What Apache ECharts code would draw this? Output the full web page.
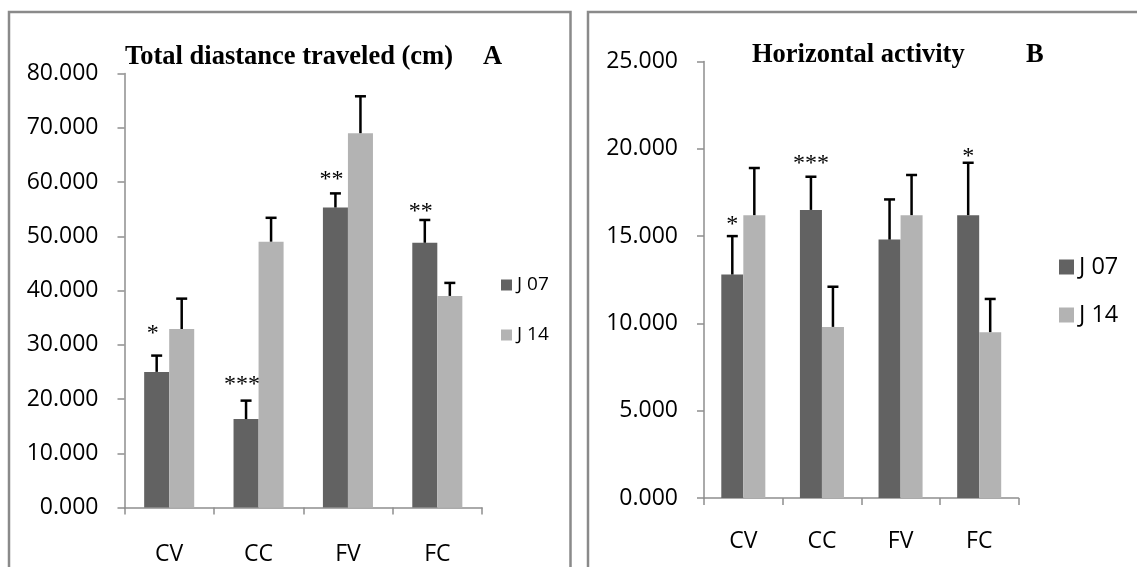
<!DOCTYPE html>
<html><head><meta charset="utf-8">
<script src="https://cdn.jsdelivr.net/npm/echarts@6/dist/echarts.min.js"></script>
<style>html,body{margin:0;padding:0;background:#fff}#c{width:1137px;height:567px}</style>
</head><body><div id="c"></div>
<script>
// ---- data ----
const categories = ['CV', 'CC', 'FV', 'FC'];
const seriesNames = ['J 07', 'J 14'];
// Panel A: Total distance traveled (cm)
const distJ07 = [25.0, 16.3, 55.3, 48.8];
const distJ07Err = [3.0, 3.4, 2.6, 4.2];
const distJ14 = [32.9, 49.0, 69.0, 39.0];
const distJ14Err = [5.6, 4.4, 6.8, 2.4];
const distStars = ['*', '***', '**', '**'];
const distStarY = [32.7, 23.3, 61.2, 55.3];
// Panel B: Horizontal activity
const horJ07 = [12.8, 16.5, 14.8, 16.2];
const horJ07Err = [2.2, 1.9, 2.3, 3.0];
const horJ14 = [16.2, 9.8, 16.2, 9.5];
const horJ14Err = [2.7, 2.3, 2.3, 1.9];
const horStars = ['*', '***', '', '*'];
const horStarY = [15.9, 19.4, 0, 19.8];
const titleA = 'Total diastance traveled (cm)';
const titleB = 'Horizontal activity';

const C_DARK = '#626262';
const C_LIGHT = '#b3b3b3';
const AXIS_C = '#8e8e8e';
const CAT_GAP = 0.44;
const SANS = '"Open Sans", sans-serif';
const SERIF = '"Liberation Serif", "Times New Roman", serif';

function errData(vals, errs) { return vals.map((v, i) => [i, v, errs[i]]); }
function starData(stars, ys) { return stars.map((s, i) => [i, ys[i], s]).filter(d => d[2]); }

function errRender(side) {
  return function (params, api) {
    const i = api.value(0), v = api.value(1), e = api.value(2);
    const band = api.size([1, 0])[0];
    const bw = band * (1 - CAT_GAP) / 2;
    const base = api.coord([i, v]);
    const top = api.coord([i, v + e]);
    const x = base[0] + side * bw / 2;
    const cap = 5.5;
    return {
      type: 'group',
      children: [
        { type: 'line', shape: { x1: x, y1: base[1], x2: x, y2: top[1] }, style: { stroke: '#000', lineWidth: 2.5 } },
        { type: 'line', shape: { x1: x - cap, y1: top[1], x2: x + cap, y2: top[1] }, style: { stroke: '#000', lineWidth: 2.5 } }
      ]
    };
  };
}
const starsLookup = {
  starsA: starData(distStars, distStarY).map(d => d[2]),
  starsB: starData(horStars, horStarY).map(d => d[2])
};
function starRender(dx) {
  return function (params, api) {
    const i = api.value(0), y = api.value(1);
    const band = api.size([1, 0])[0];
    const bw = band * (1 - CAT_GAP) / 2;
    const p = api.coord([i, y]);
    return {
      type: 'text',
      style: {
        text: starsLookup[params.seriesName][params.dataIndex],
        x: p[0] - bw / 2 + dx, y: p[1] + 4,
        fill: '#000', font: 'normal 24px ' + SERIF,
        align: 'center', verticalAlign: 'middle'
      }
    };
  };
}

function xAx(gi, margin) {
  return {
    type: 'category', gridIndex: gi, data: categories,
    axisLine: { lineStyle: { color: AXIS_C, width: 1.5 } },
    axisTick: { show: true, interval: 0, length: 7, lineStyle: { color: AXIS_C, width: 1.5 } },
    axisLabel: { color: '#000', fontFamily: SANS, fontSize: 23, margin: margin, interval: 0 },
    splitLine: { show: false }
  };
}
function yAx(gi, max, interval) {
  return {
    type: 'value', gridIndex: gi, min: 0, max: max, interval: interval,
    axisLine: { show: true, lineStyle: { color: AXIS_C, width: 1.5 } },
    axisTick: { show: true, length: 7, lineStyle: { color: AXIS_C, width: 1.5 } },
    axisLabel: { color: '#000', fontFamily: SANS, fontSize: 23, margin: 26, formatter: v => v.toFixed(3) },
    splitLine: { show: false }
  };
}
function bar(name, gi, data, color) {
  return {
    type: 'bar', name: name, xAxisIndex: gi, yAxisIndex: gi, data: data,
    barGap: '0%', barCategoryGap: (CAT_GAP * 100) + '%',
    itemStyle: { color: color }, animation: false
  };
}
function errSeries(gi, vals, errs, side) {
  return {
    type: 'custom', name: 'err', xAxisIndex: gi, yAxisIndex: gi, z: 5,
    data: errData(vals, errs), renderItem: errRender(side),
    encode: { x: 0, y: 1 }, animation: false, silent: true
  };
}
function starSeries(name, gi, stars, ys, dx) {
  return {
    type: 'custom', name: name, xAxisIndex: gi, yAxisIndex: gi, z: 6,
    data: starData(stars, ys), renderItem: starRender(dx),
    encode: { x: 0, y: 1 }, animation: false, silent: true
  };
}

const option = {
  animation: false,
  backgroundColor: '#fff',
  grid: [
    { left: 124.5, top: 73.5, width: 357.5, height: 434 },
    { left: 704, top: 61.5, width: 314.5, height: 436.5 }
  ],
  xAxis: [xAx(0, 35), xAx(1, 32)],
  yAxis: [yAx(0, 80, 10), yAx(1, 25, 5)],
  legend: [
    { orient: 'vertical', left: 501, top: 275, padding: 0, itemWidth: 11, itemHeight: 11, itemGap: 30, icon: 'rect',
      selectedMode: false, data: seriesNames,
      textStyle: { fontFamily: SANS, fontSize: 19, color: '#000', lineHeight: 20 } },
    { orient: 'vertical', left: 1059, top: 255, padding: 0, itemWidth: 15, itemHeight: 15, itemGap: 24, icon: 'rect',
      selectedMode: false, data: seriesNames,
      textStyle: { fontFamily: SANS, fontSize: 23.5, color: '#000', lineHeight: 24 } }
  ],
  series: [
    bar(seriesNames[0], 0, distJ07, C_DARK),
    bar(seriesNames[1], 0, distJ14, C_LIGHT),
    errSeries(0, distJ07, distJ07Err, -1),
    errSeries(0, distJ14, distJ14Err, 1),
    starSeries('starsA', 0, distStars, distStarY, -4),
    bar(seriesNames[0], 1, horJ07, C_DARK),
    bar(seriesNames[1], 1, horJ14, C_LIGHT),
    errSeries(1, horJ07, horJ07Err, -1),
    errSeries(1, horJ14, horJ14Err, 1),
    starSeries('starsB', 1, horStars, horStarY, 0)
  ],
  graphic: [
    { type: 'rect', shape: { x: 9, y: 12, width: 561.5, height: 600 }, style: { fill: 'none', stroke: '#8a8a8a', lineWidth: 2.5 }, silent: true },
    { type: 'rect', shape: { x: 588, y: 12, width: 560, height: 600 }, style: { fill: 'none', stroke: '#8a8a8a', lineWidth: 2.5 }, silent: true },
    { type: 'text', left: 125, top: 44, style: { text: titleA, font: 'bold 26.5px ' + SERIF, fill: '#000' } },
    { type: 'text', left: 483, top: 44, style: { text: 'A', font: 'bold 26.5px ' + SERIF, fill: '#000' } },
    { type: 'text', left: 752, top: 42, style: { text: titleB, font: 'bold 26.5px ' + SERIF, fill: '#000' } },
    { type: 'text', left: 1026, top: 42, style: { text: 'B', font: 'bold 26.5px ' + SERIF, fill: '#000' } }
  ]
};
const chart = echarts.init(document.getElementById('c'));
chart.setOption(option);
</script>
</body></html>
